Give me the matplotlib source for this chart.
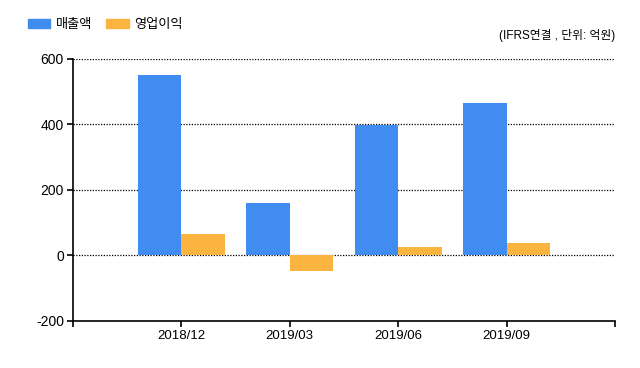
import matplotlib
matplotlib.use("Agg")
import matplotlib.pyplot as plt
import numpy as np
from matplotlib.patches import Patch

plt.rcParams['font.family'] = ['Liberation Sans', 'Noto Sans CJK KR', 'DejaVu Sans']

categories = ['2018/12', '2019/03', '2019/06', '2019/09']
sales = [551, 161, 396, 463]
op_profit = [64, -47, 25, 39]
series_names = ['매출액', '영업이익']
colors = ['#418CF0', '#FCB441']
yticks = [-200, 0, 200, 400, 600]

fig = plt.figure(figsize=(6.4, 3.68), dpi=100)
ax = fig.add_axes([73/640, 1-321/368, (615-73)/640, (321-58.5)/368])

x = np.arange(1, len(categories) + 1)
w = 0.4
ax.bar(x - w/2, sales, w, color=colors[0], zorder=3)
ax.bar(x + w/2, op_profit, w, color=colors[1], zorder=3)

ax.set_xlim(0, len(categories) + 1)
ax.set_ylim(-200, 600)
ax.set_yticks(yticks)
ax.set_yticklabels([str(v) for v in yticks], fontsize=10)
ax.set_xticks(np.arange(0, len(categories) + 2))
ax.set_xticklabels([''] + categories + [''], fontsize=9.5)

for s in ['top', 'right']:
    ax.spines[s].set_visible(False)
for s in ['left', 'bottom']:
    ax.spines[s].set_linewidth(1.2)
    ax.spines[s].set_color('black')
ax.tick_params(axis='both', direction='out', length=4.5, width=1.2, colors='black', pad=2)

for v in yticks[1:]:
    ax.axhline(v, color='black', linestyle=(0, (1, 1.2)), linewidth=0.9, zorder=2)

handles = [Patch(color=colors[0]), Patch(color=colors[1])]
fig.legend(handles, series_names, loc='upper left', bbox_to_anchor=(16/640, 1-7/368),
           ncol=2, frameon=False, fontsize=9.5, handlelength=1.7, handleheight=0.7,
           columnspacing=1.1, handletextpad=0.4)

fig.text(615/640, 1-36/368, '(IFRS연결 , 단위: 억원)', ha='right', va='center', fontsize=8.5)

fig.savefig('out.png', dpi=100)
